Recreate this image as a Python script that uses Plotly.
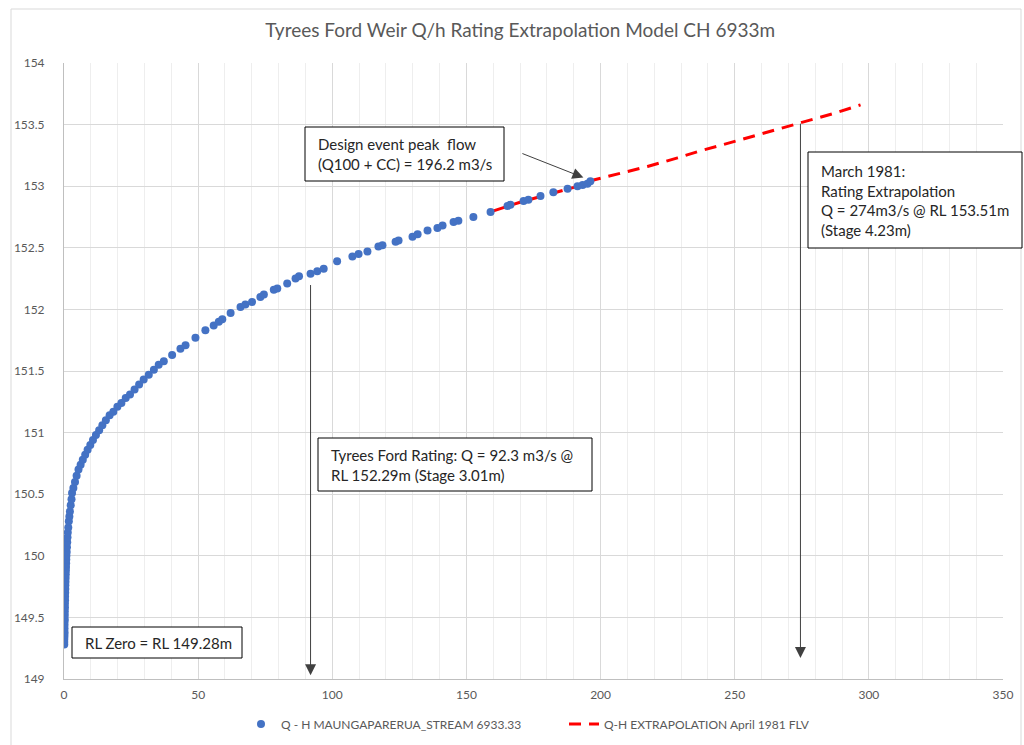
import plotly.graph_objects as go

# ---------------- data ----------------
q_obs = [0.1, 0.1, 0.1, 0.15, 0.15, 0.2, 0.2, 0.2, 0.25, 0.25, 0.3, 0.3, 0.35, 0.35, 0.4, 0.4,
         0.45, 0.5, 0.5, 0.55, 0.6, 0.65, 0.7, 0.75, 0.8, 0.85, 0.9, 1.0, 1.1, 1.2, 1.3, 1.4,
         1.6, 1.8, 2.0, 2.2, 2.5, 2.8, 3.0, 3.5, 4.1, 4.7, 5.4, 6.2, 7.0, 7.9, 8.8, 9.8,
         10.8, 11.9, 13.1, 14.3, 15.6, 17.0, 18.4, 19.9, 21.4, 23.0, 24.6, 26.3, 28.0,
         29.7, 31.6, 33.5, 35.3, 37.2, 40.3, 43.4, 45.3, 49.0, 52.7, 55.8, 57.7, 59.0,
         62.1, 65.8, 67.6, 70.1, 73.2, 74.5, 78.2, 79.5, 83.2, 86.3, 87.6, 91.9, 94.4,
         96.8, 101.8, 107.5, 109.8, 113.1, 117.2, 118.7, 123.6, 124.7, 129.9, 131.8,
         135.5, 139.2, 141.1, 145.2, 147.0, 152.6, 159.0, 165.3, 166.4, 171.3, 173.1,
         177.6, 182.4, 187.7, 191.4, 193.3, 195.1, 196.2]
h_obs = [149.28, 149.30, 149.32, 149.34, 149.36, 149.38, 149.41, 149.44, 149.47, 149.49, 149.52,
         149.55, 149.58, 149.61, 149.64, 149.67, 149.70, 149.73, 149.76, 149.79, 149.82, 149.85,
         149.88, 149.91, 149.94, 149.97, 150.00, 150.03, 150.07, 150.11, 150.15, 150.19,
         150.23, 150.28, 150.32, 150.36, 150.41, 150.46, 150.51, 150.55, 150.60, 150.65,
         150.70, 150.74, 150.78, 150.82, 150.86, 150.90, 150.94, 150.98, 151.02, 151.06,
         151.10, 151.14, 151.17, 151.21, 151.24, 151.28, 151.31, 151.35, 151.39,
         151.43, 151.47, 151.51, 151.55, 151.58, 151.63, 151.68, 151.71, 151.77, 151.83,
         151.87, 151.90, 151.92, 151.97, 152.02, 152.04, 152.06, 152.10, 152.12, 152.16,
         152.17, 152.21, 152.25, 152.27, 152.29, 152.31, 152.33, 152.39, 152.43, 152.45,
         152.47, 152.51, 152.52, 152.55, 152.56, 152.59, 152.61, 152.64, 152.66, 152.68,
         152.71, 152.72, 152.75, 152.79, 152.84, 152.85, 152.88, 152.89, 152.92, 152.95,
         152.98, 153.00, 153.01, 153.02, 153.04]

q_ext = [160.1, 170.0, 180.0, 190.0, 197.4, 204.8, 217.5, 228.7, 236.1, 251.0, 264.4, 273.4, 286.8, 296.9]
h_ext = [152.80, 152.87, 152.93, 152.99, 153.05, 153.09, 153.16, 153.23, 153.28, 153.37, 153.45, 153.51, 153.59, 153.66]

name_obs = "Q - H MAUNGAPARERUA_STREAM 6933.33"
name_ext = "Q-H EXTRAPOLATION April 1981 FLV"
title = "Tyrees Ford Weir Q/h Rating Extrapolation Model CH 6933m"

# ---------------- layout helpers ----------------
W, H = 1024, 745
ML, MR, MT, MB = 64, 21, 63, 66
PL, PR, PT, PB = ML, W - MR, MT, H - MB


def px(x):
    return (x - PL) / (PR - PL)


def py(y):
    return (PB - y) / (PB - PT)


FONT = "Lato"
GREY = "#595959"

fig = go.Figure()
fig.add_trace(go.Scatter(
    x=q_ext, y=h_ext, mode="lines", name=name_ext, legendrank=2,
    line=dict(color="#FF0000", width=3, dash="12px,8px"),
))
fig.add_trace(go.Scatter(
    x=q_obs, y=h_obs, mode="markers", name=name_obs, legendrank=1,
    marker=dict(color="#4472C4", size=8, line=dict(width=0)),
))

shapes = []
# outer chart border
shapes.append(dict(type="rect", xref="paper", yref="paper",
                   x0=px(11), x1=px(1021), y0=py(760), y1=py(9),
                   line=dict(color="#d9d9d9", width=1), fillcolor="rgba(0,0,0,0)", layer="below"))

boxes = [
    ((305, 127, 504, 181), "Design event peak  flow<br>(Q100 + CC) = 196.2 m3/s"),
    ((808, 152, 1022, 248), "March 1981:<br>Rating Extrapolation<br>Q = 274m3/s @ RL 153.51m<br>(Stage 4.23m)"),
    ((318, 438, 592, 491), "Tyrees Ford Rating: Q = 92.3 m3/s @<br>RL 152.29m (Stage 3.01m)"),
    ((72, 627, 242, 658), "RL Zero = RL 149.28m"),
]
annotations = []
for (x0, y0, x1, y1), txt in boxes:
    shapes.append(dict(type="rect", xref="paper", yref="paper",
                       x0=px(x0), x1=px(x1), y0=py(y1), y1=py(y0),
                       line=dict(color="#000000", width=1), fillcolor="white", layer="above"))
    annotations.append(dict(xref="paper", yref="paper", x=px(x0 + 12), y=py((y0 + y1) / 2),
                            xanchor="left", yanchor="middle", align="left", showarrow=False,
                            text=txt, borderpad=0,
                            font=dict(family=FONT, size=15, color="#262626")))

# arrows (head at x,y ; tail at ax,ay) in data coordinates
arrows = [
    (91.9, 149.03, 91.9, 152.21),
    (274.5, 149.17, 274.5, 153.52),
    (193.6, 153.07, 170.3, 153.27),
]
for hx, hy, tx, ty in arrows:
    annotations.append(dict(x=hx, y=hy, ax=tx, ay=ty, xref="x", yref="y", axref="x", ayref="y",
                            text="", showarrow=True, arrowhead=2, arrowsize=2.2, arrowwidth=1,
                            arrowcolor="#404040", standoff=0, startstandoff=0))

fig.update_layout(
    width=W, height=H,
    margin=dict(l=ML, r=MR, t=MT, b=MB, autoexpand=False),
    paper_bgcolor="white", plot_bgcolor="white",
    font=dict(family=FONT, color=GREY, size=12),
    title=dict(text=title, x=0.508, xanchor="center", y=1 - 30 / H, yanchor="middle",
               font=dict(family=FONT, size=19, color=GREY)),
    showlegend=True,
    legend=dict(orientation="h", xref="container", yref="container",
                x=241 / W, xanchor="left", y=1 - 724 / H, yanchor="middle",
                entrywidth=278, entrywidthmode="pixels",
                font=dict(family=FONT, size=12, color=GREY), bgcolor="rgba(0,0,0,0)"),
    shapes=shapes,
    annotations=annotations,
)
fig.update_xaxes(range=[0, 350], tick0=0, dtick=50, showgrid=True, gridcolor="#d9d9d9", gridwidth=1,
                 minor=dict(dtick=10, showgrid=True, gridcolor="#eeeeee", gridwidth=1),
                 showline=True, linecolor="#bfbfbf", linewidth=1, zeroline=False, ticks="",
                 ticklabelstandoff=5, tickfont=dict(family=FONT, size=12, color=GREY))
fig.update_yaxes(range=[149, 154], tick0=149, dtick=0.5, showgrid=True, gridcolor="#d9d9d9", gridwidth=1,
                 showline=True, linecolor="#bfbfbf", linewidth=1, zeroline=False, ticks="",
                 ticklabelstandoff=16, tickfont=dict(family=FONT, size=12, color=GREY))

fig.write_html("out.html")
